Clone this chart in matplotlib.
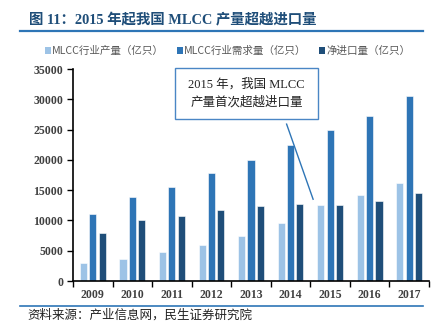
import matplotlib
matplotlib.use("Agg")
import matplotlib.pyplot as plt
from matplotlib.patches import Patch, Rectangle
from matplotlib.lines import Line2D
import numpy as np

years = ["2009", "2010", "2011", "2012", "2013", "2014", "2015", "2016", "2017"]
production = [3000, 3700, 4750, 5970, 7500, 9570, 12500, 14150, 16150]
demand = [11050, 13900, 15450, 17850, 20050, 22400, 25000, 27250, 30550]
net_import = [8000, 10070, 10650, 11800, 12400, 12750, 12500, 13150, 14500]
series_names = ["MLCC行业产量（亿只）", "MLCC行业需求量（亿只）", "净进口量（亿只）"]
colors = ["#9DC3E6", "#2E75B6", "#1F4E79"]

serif = ["Liberation Serif", "Noto Sans CJK SC"]
cjk = ["Noto Sans CJK SC", "DejaVu Sans"]

fig = plt.figure(figsize=(4.36, 3.21), dpi=100)
ax = fig.add_axes([73 / 436, 40 / 321, 356 / 436, 212 / 321])

x = np.arange(len(years))
w = 0.18
off = 0.235
for vals, c, dx in zip([production, demand, net_import], colors, [-off, 0, off]):
    ax.bar(x + dx, vals, width=w, color=c, edgecolor="white", linewidth=0.4, zorder=2)

ax.set_xlim(-0.5, len(years) - 0.5)
ax.set_ylim(0, 35000)
ax.set_yticks(range(0, 35001, 5000))
ax.set_yticklabels([str(v) for v in range(0, 35001, 5000)],
                   fontfamily=serif, fontweight="bold", fontsize=8.5, color="#404040")
ax.set_xticks(x)
ax.set_xticklabels(years, fontfamily=serif, fontweight="bold", fontsize=8.5, color="#404040")
ax.set_xticks(np.arange(-0.5, len(years), 1), minor=True)
ax.tick_params(axis="x", which="major", length=0, pad=6)
ax.tick_params(axis="x", which="minor", length=4, width=1, color="black", direction="out")
ax.tick_params(axis="y", length=4, width=1, direction="out", pad=3)
for s in ["top", "right"]:
    ax.spines[s].set_visible(False)
ax.spines["left"].set_linewidth(1.2)
ax.spines["bottom"].set_linewidth(1.2)

# callout box and leader line
ax.add_patch(Rectangle((2.08, 26800), 3.62, 8300, facecolor="white",
                       edgecolor="#4A86C5", linewidth=1.0, clip_on=False, zorder=4))
ax.text(3.89, 30950, "2015 年，我国 MLCC\n产量首次超越进口量", ha="center", va="center",
        fontfamily=serif, fontsize=9, linespacing=1.5, color="#222222", zorder=5)
ax.plot([4.9, 5.57], [25900, 13500], color="#2E75B6", linewidth=1.0, zorder=5, clip_on=False)

# legend
handles = [Patch(facecolor=c, edgecolor="none") for c in colors]
fig.legend(handles, series_names, loc="center", bbox_to_anchor=(0.522, 270 / 321), ncol=3,
           frameon=False, prop={"family": cjk, "size": 7.6}, handlelength=0.6, handleheight=0.6,
           handletextpad=0.1, columnspacing=1.2, labelcolor="#595959")

# title and rules
fig.text(29 / 436, 1 - 20 / 321, "图 11：2015 年起我国 MLCC 产量超越进口量", ha="left", va="center",
         fontfamily=serif, fontweight="bold", fontsize=10.4, color="#1F4E79")
fig.add_artist(Line2D([20 / 436, 423 / 436], [1 - 31 / 321] * 2, color="#2E75B6", linewidth=1.6))
fig.add_artist(Line2D([20 / 436, 423 / 436], [1 - 306 / 321] * 2, color="#2E75B6", linewidth=1.2))
fig.text(27 / 436, 1 - 315 / 321, "资料来源：产业信息网，民生证券研究院", ha="left", va="center",
         fontfamily=cjk, fontsize=9, color="#222222")

fig.savefig("out.png", dpi=100)
